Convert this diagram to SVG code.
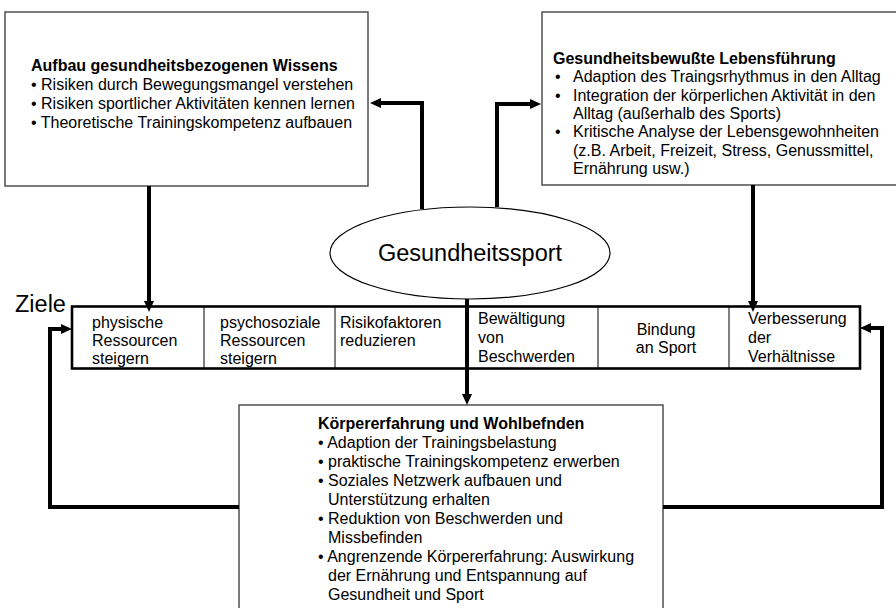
<svg xmlns="http://www.w3.org/2000/svg" width="896" height="608" viewBox="0 0 896 608">
  <style>
    text { font-family: "Liberation Sans", Arial, sans-serif; fill: #000; }
    .t { font-size: 16px; }
    .b { font-size: 16px; font-weight: bold; }
    .big { font-size: 23.5px; }
    .box { fill: #fff; stroke: #444; stroke-width: 1.4; }
    .conn { fill: none; stroke: #000; stroke-width: 4; }
    .grid { fill: none; stroke: #000; stroke-width: 1; }
    .frame { fill: none; stroke: #000; stroke-width: 2.6; }
  </style>
  <defs>
    <marker id="ah" viewBox="0 0 11 10" markerWidth="11" markerHeight="10" refX="1" refY="5" orient="auto" markerUnits="userSpaceOnUse">
      <path d="M0,0 L11,5 L0,10 z" fill="#000"/>
    </marker>
  </defs>
  <rect width="896" height="608" fill="#fff"/>

  <!-- knowledge box, top left -->
  <g id="wissen">
    <rect class="box" x="5" y="12" width="363" height="174"/>
    <text class="b" x="31" y="71">Aufbau gesundheitsbezogenen Wissens</text>
    <text class="t" x="31" y="90">• Risiken durch Bewegungsmangel verstehen</text>
    <text class="t" x="31" y="109">• Risiken sportlicher Aktivitäten kennen lernen</text>
    <text class="t" x="31" y="128">• Theoretische Trainingskompetenz aufbauen</text>
  </g>

  <!-- lifestyle box, top right -->
  <g id="lebensfuehrung">
    <rect class="box" x="542" y="12" width="360" height="173"/>
    <text class="b" x="553" y="64">Gesundheitsbewußte Lebensführung</text>
    <text class="t" x="555" y="82.3">•</text>
    <text class="t" x="573" y="82.3">Adaption des Traingsrhythmus in den Alltag</text>
    <text class="t" x="555" y="100.6">•</text>
    <text class="t" x="573" y="100.6">Integration der körperlichen Aktivität in den</text>
    <text class="t" x="573" y="118.9">Alltag (außerhalb des Sports)</text>
    <text class="t" x="555" y="137.2">•</text>
    <text class="t" x="573" y="137.2">Kritische Analyse der Lebensgewohnheiten</text>
    <text class="t" x="573" y="155.5">(z.B. Arbeit, Freizeit, Stress, Genussmittel,</text>
    <text class="t" x="573" y="173.8">Ernährung usw.)</text>
  </g>

  <!-- central ellipse -->
  <g id="gesundheitssport">
    <ellipse cx="470" cy="253" rx="140" ry="46" fill="#fff" stroke="#000" stroke-width="1.2"/>
    <text class="big" x="470" y="261" text-anchor="middle">Gesundheitssport</text>
  </g>

  <!-- goals table -->
  <g id="ziele">
    <text class="big" x="15" y="312">Ziele</text>
    <rect class="frame" x="72" y="306.5" width="788" height="62"/>
    <path class="grid" d="M204 306.5 V368.5 M335 306.5 V368.5 M467 306.5 V368.5 M598 306.5 V368.5 M729 306.5 V368.5"/>
    <text class="t" x="92" y="327.5">physische</text>
    <text class="t" x="92" y="345.8">Ressourcen</text>
    <text class="t" x="92" y="364">steigern</text>
    <text class="t" x="220" y="327.5">psychosoziale</text>
    <text class="t" x="220" y="345.8">Ressourcen</text>
    <text class="t" x="220" y="364">steigern</text>
    <text class="t" x="340" y="327.5">Risikofaktoren</text>
    <text class="t" x="340" y="345.8">reduzieren</text>
    <text class="t" x="478" y="324">Bewältigung</text>
    <text class="t" x="478" y="343">von</text>
    <text class="t" x="478" y="362">Beschwerden</text>
    <text class="t" x="666" y="335" text-anchor="middle">Bindung</text>
    <text class="t" x="666" y="353" text-anchor="middle">an Sport</text>
    <text class="t" x="748" y="324">Verbesserung</text>
    <text class="t" x="748" y="343">der</text>
    <text class="t" x="748" y="362">Verhältnisse</text>
  </g>

  <!-- body experience box, bottom -->
  <g id="koerpererfahrung">
    <rect class="box" x="239" y="405" width="424" height="220"/>
    <text class="b" x="318" y="429">Körpererfahrung und Wohlbefnden</text>
    <text class="t" x="318" y="448">• Adaption der Trainingsbelastung</text>
    <text class="t" x="318" y="467">• praktische Trainingskompetenz erwerben</text>
    <text class="t" x="318" y="486">• Soziales Netzwerk aufbauen und</text>
    <text class="t" x="328" y="505">Unterstützung erhalten</text>
    <text class="t" x="318" y="524">• Reduktion von Beschwerden und</text>
    <text class="t" x="328" y="543">Missbefinden</text>
    <text class="t" x="318" y="562">• Angrenzende Körpererfahrung: Auswirkung</text>
    <text class="t" x="328" y="581">der Ernährung und Entspannung auf</text>
    <text class="t" x="328" y="600">Gesundheit und Sport</text>
  </g>

  <!-- connectors -->
  <g id="connectors">
    <path class="conn" d="M422 209 V103 H380" marker-end="url(#ah)"/>
    <path class="conn" d="M497 207 V104 H531" marker-end="url(#ah)"/>
    <path class="conn" d="M149 186 V302" marker-end="url(#ah)"/>
    <path class="conn" d="M753 185 V302" marker-end="url(#ah)"/>
    <path class="conn" d="M467 299 V395" marker-end="url(#ah)"/>
    <path class="conn" d="M239 507 H50 V329 H62" marker-end="url(#ah)"/>
    <path class="conn" d="M663 507 H882 V328 H870" marker-end="url(#ah)"/>
  </g>
</svg>
